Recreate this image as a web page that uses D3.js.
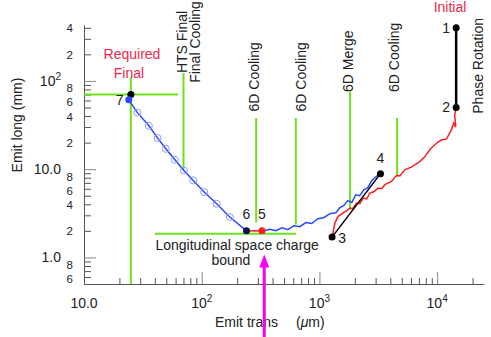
<!DOCTYPE html>
<meta charset="utf-8">
<head>
	<script src="https://d3js.org/d3.v7.min.js"></script>
	<style>
		body {
			margin: 0;
			background: #fff;
		}
		svg {
			font-family: "Liberation Sans", Arial, sans-serif;
			font-size: 14px;
		}
		.axis path,
		.axis line {
			fill: none;
			stroke: #555;
		}
		.axis.major line {
			stroke: #888;
		}
		.axis.major path {
			display: none;
		}
	</style>
</head>

<body>
	<div id="chart"></div>
</body>

<script type="text/javascript">

	// ---- data ----
	var xDecades = [10, 100, 1000, 10000];
	var xDecadeLabels = [["10.0", ""], ["10", "2"], ["10", "3"], ["10", "4"]];

	var yDecades = [1, 10, 100];
	var yDecadeLabels = [["1.0", ""], ["10.0", ""], ["10", "2"]];
	var yMinorLabelValues = [0.6, 0.8, 2, 4, 6, 8, 20, 40, 60, 80, 200, 400];
	var yMinorLabels = ["6", "8", "2", "4", "6", "8", "2", "4", "6", "8", "2", "4"];

	// final cooling path 7 -> 6 (trans um, long mm)
	var finalCooling = [[24, 61], [28.4, 43.7], [35.6, 31], [42.2, 22.5], [49.6, 17], [59.2, 12.8],
		[70.6, 9.66], [84.7, 7.45], [105, 5.5], [134, 4.06], [173, 2.87], [240, 2.0]];

	// 6D cooling after merge, 5 -> 4
	var cooling6D = [[324, 1.97], [379, 2.09], [427, 2.01], [480, 2.17], [540, 2.06], [607, 2.29],
		[682, 2.23], [767, 2.48], [861, 2.42], [968, 2.75], [1089, 2.82], [1225, 3.13], [1377, 3.2],
		[1489, 3.66], [1610, 3.85], [1741, 4.4], [1883, 4.2], [2036, 5.13], [2202, 5.0], [2381, 5.85],
		[2575, 6.17], [2784, 7.4], [3011, 8.2], [3256, 8.87]];

	// 6D cooling before merge, 2 -> 3
	var coolingInit = [[14500, 49.5], [14100, 41.2], [14390, 29.9], [13830, 33.2], [13210, 27.9],
		[12540, 24.5], [12000, 21.9], [10940, 21.5], [10190, 20.3], [9360, 18.4], [8650, 16.6],
		[7844, 13.8], [7110, 12.2], [6086, 10.6], [5310, 9.84], [4818, 8.4], [4515, 8.49], [4094, 7.26],
		[3590, 6.67], [3387, 6.0], [3150, 6.1], [2896, 5.55], [2680, 5.37], [2523, 4.6], [2349, 4.71],
		[2203, 4.06], [2065, 4.13], [1919, 3.57], [1811, 3.63], [1709, 3.38], [1590, 3.19], [1442, 2.92],
		[1352, 2.45], [1282, 1.7]];

	var chargeStep = [[240, 2.0], [325, 2.0]];
	var phaseRotation = [[14500, 400], [14500, 50]];
	var bunchMerge = [[1280, 1.7], [3300, 8.9]];

	var points = [
		{ id: "1", v: [14500, 400], c: "#000" },
		{ id: "2", v: [14500, 50], c: "#000" },
		{ id: "3", v: [1280, 1.7], c: "#000" },
		{ id: "4", v: [3300, 8.9], c: "#000" },
		{ id: "5", v: [325, 2.0], c: "#ff1f1f" },
		{ id: "6", v: [240, 2.0], c: "#10124a" },
		{ id: "7", v: [24, 61], c: "#2b48ff" }
	];
	var requiredFinal = [25, 70];

	// stage boundaries: [trans, long from, long to]
	var stageLines = [[25, 0.5, 110], [70, 10, 123], [290, 2.5, 38], [630, 2.35, 38], [1820, 3.47, 75], [4570, 8.6, 38]];
	// horizontal limits: [trans from, trans to, long]
	var limitLines = [[10, 63, 70], [40, 630, 1.85]];
	var chargeBoundArrow = [[340, 0.12], [340, 1.08]];

	// ---- chart ----
	var width = 491, height = 337;

	var x = d3.scaleLog().domain([10, 25000]).range([84, 484]);
	var y = d3.scaleLog().domain([0.5, 430]).range([284, 25]);

	var svg = d3.select("#chart").append("svg")
		.attr("width", width)
		.attr("height", height);

	function minorOf(decades, lo, hi) {
		var out = [];
		decades.forEach(function(d) {
			for (var m = 2; m <= 9; m++) {
				if (m * d >= lo && m * d <= hi) out.push(m * d);
			}
		});
		return out;
	}

	// x axis
	svg.append("g")
		.attr("class", "axis")
		.attr("transform", "translate(0,284)")
		.call(d3.axisBottom(x).tickValues(minorOf(xDecades, 10, 25000)).tickSizeInner(-6).tickSizeOuter(0).tickFormat(""));
	svg.append("g")
		.attr("class", "axis major")
		.attr("transform", "translate(0,284)")
		.call(d3.axisBottom(x).tickValues(xDecades.slice(1)).tickSizeInner(-12).tickSizeOuter(0).tickFormat(""));

	// y axis
	svg.append("g")
		.attr("class", "axis")
		.attr("transform", "translate(84,0)")
		.call(d3.axisLeft(y).tickValues(minorOf([0.1, 1, 10, 100], 0.5, 430)).tickSizeInner(-7).tickSizeOuter(0).tickFormat(""));
	svg.append("g")
		.attr("class", "axis major")
		.attr("transform", "translate(84,0)")
		.call(d3.axisLeft(y).tickValues(yDecades).tickSizeInner(-12).tickSizeOuter(0).tickFormat(""));

	function supText(sel, lab) {
		sel.append("tspan").text(lab[0]);
		if (lab[1]) {
			sel.append("tspan").attr("dy", -6).style("font-size", "10px").text(lab[1]);
		}
	}

	xDecades.forEach(function(d, i) {
		var t = svg.append("text")
			.attr("x", x(d))
			.attr("y", 308)
			.style("text-anchor", "middle")
			.style("fill", "#222");
		supText(t, xDecadeLabels[i]);
	});

	yDecades.forEach(function(d, i) {
		var t = svg.append("text")
			.attr("x", 61)
			.attr("y", y(d) + 5)
			.style("text-anchor", "end")
			.style("fill", "#222");
		supText(t, yDecadeLabels[i]);
	});

	// 8 and 6 sit close together; nudge them apart a little
	svg.selectAll(".ylab")
		.data(yMinorLabelValues)
		.enter().append("text")
		.attr("class", "ylab")
		.attr("x", 73)
		.attr("y", function(d, i) {
			var nudge = yMinorLabels[i] === "8" ? -1.5 : (yMinorLabels[i] === "6" ? 1.5 : 0);
			return y(d) + 4.5 + nudge;
		})
		.style("text-anchor", "end")
		.style("font-size", "11.5px")
		.style("fill", "#222")
		.text(function(d, i) { return yMinorLabels[i]; });

	// axis titles
	var xt = svg.append("text")
		.attr("x", 215)
		.attr("y", 327)
		.style("fill", "#222");
	xt.append("tspan").text("Emit trans");
	xt.append("tspan").attr("dx", 18).text("(");
	xt.append("tspan").style("font-style", "italic").text("\u03bc");
	xt.append("tspan").text("m)");

	svg.append("text")
		.attr("transform", "translate(22,125)rotate(-90)")
		.style("text-anchor", "middle")
		.style("fill", "#222")
		.text("Emit long (mm)");

	// green stage lines
	svg.selectAll(".stage")
		.data(stageLines)
		.enter().append("line")
		.attr("class", "stage")
		.attr("x1", function(d) { return x(d[0]); })
		.attr("x2", function(d) { return x(d[0]); })
		.attr("y1", function(d) { return y(d[1]); })
		.attr("y2", function(d) { return y(d[2]); })
		.style("stroke", "#6ee21a")
		.style("stroke-width", 2);

	svg.selectAll(".limit")
		.data(limitLines)
		.enter().append("line")
		.attr("class", "limit")
		.attr("x1", function(d) { return x(d[0]); })
		.attr("x2", function(d) { return x(d[1]); })
		.attr("y1", function(d) { return y(d[2]); })
		.attr("y2", function(d) { return y(d[2]); })
		.style("stroke", "#6ee21a")
		.style("stroke-width", 2);

	// stage labels, rotated
	var stageLabels = [
		{ t: "6D Cooling", x: 290, dx: 3, y: 45, anchor: "start" },
		{ t: "6D Cooling", x: 630, dx: 10, y: 45, anchor: "start" },
		{ t: "6D Merge", x: 1820, dx: 3, y: 75, anchor: "start" },
		{ t: "6D Cooling", x: 4570, dx: 2, y: 75, anchor: "start" },
		{ t: "HTS Final", x: 70, dx: 4, y: 276, anchor: "middle" },
		{ t: "Final Cooling", x: 70, dx: 17, y: 276, anchor: "middle" },
		{ t: "Phase Rotation", x: 14500, dx: 27, y: 148, anchor: "middle" }
	];
	svg.selectAll(".stagelab")
		.data(stageLabels)
		.enter().append("text")
		.attr("class", "stagelab")
		.attr("transform", function(d) { return "translate(" + (x(d.x) + d.dx) + "," + y(d.y) + ")rotate(-90)"; })
		.style("text-anchor", function(d) { return d.anchor; })
		.style("fill", "#222")
		.text(function(d) { return d.t; });

	var line = d3.line()
		.x(function(d) { return x(d[0]); })
		.y(function(d) { return y(d[1]); });

	// paths
	svg.append("path").datum(finalCooling).attr("d", line)
		.style("fill", "none").style("stroke", "#2b48ff").style("stroke-width", 1.5);
	svg.selectAll(".ring")
		.data(finalCooling.slice(1, -1))
		.enter().append("circle")
		.attr("class", "ring")
		.attr("cx", function(d) { return x(d[0]); })
		.attr("cy", function(d) { return y(d[1]); })
		.attr("r", 3.5)
		.style("fill", "none")
		.style("stroke", "#8c9cff")
		.style("stroke-width", 1);

	svg.append("path").datum(coolingInit).attr("d", line)
		.style("fill", "none").style("stroke", "#ff1f1f").style("stroke-width", 1.5);
	svg.append("path").datum(cooling6D).attr("d", line)
		.style("fill", "none").style("stroke", "#2b48ff").style("stroke-width", 1.5);
	svg.append("path").datum(chargeStep).attr("d", line)
		.style("fill", "none").style("stroke", "#ff1f1f").style("stroke-width", 1.5);
	svg.append("path").datum(phaseRotation).attr("d", line)
		.style("fill", "none").style("stroke", "#000").style("stroke-width", 2.5);
	svg.append("path").datum(bunchMerge).attr("d", line)
		.style("fill", "none").style("stroke", "#000").style("stroke-width", 1.5);

	// points
	svg.append("circle")
		.attr("cx", x(requiredFinal[0]))
		.attr("cy", y(requiredFinal[1]))
		.attr("r", 3.5)
		.style("fill", "#000");

	svg.selectAll(".pt")
		.data(points)
		.enter().append("circle")
		.attr("class", "pt")
		.attr("cx", function(d) { return x(d.v[0]); })
		.attr("cy", function(d) { return y(d.v[1]); })
		.attr("r", 3.5)
		.style("fill", function(d) { return d.c; });

	var ptOffset = { "1": [-10, 5], "2": [-10, 5], "3": [10, 6], "4": [0, -11], "5": [0, -12], "6": [0, -12], "7": [-9, 5] };
	svg.selectAll(".ptlab")
		.data(points)
		.enter().append("text")
		.attr("class", "ptlab")
		.attr("x", function(d) { return x(d.v[0]) + ptOffset[d.id][0]; })
		.attr("y", function(d) { return y(d.v[1]) + ptOffset[d.id][1]; })
		.style("text-anchor", "middle")
		.style("fill", "#222")
		.text(function(d) { return d.id; });

	// annotations
	svg.append("text").attr("x", 132).attr("y", 59).style("text-anchor", "middle")
		.style("fill", "#f0284a").text("Required");
	svg.append("text").attr("x", 129).attr("y", 78).style("text-anchor", "middle")
		.style("fill", "#f0284a").text("Final");
	svg.append("text").attr("x", 450).attr("y", 12).style("text-anchor", "middle")
		.style("fill", "#f0284a").text("Initial");

	svg.append("text").attr("x", x(200)).attr("y", 250).style("text-anchor", "middle")
		.style("fill", "#222").text("Longitudinal space charge");
	svg.append("text").attr("x", x(177)).attr("y", 265).style("text-anchor", "middle")
		.style("fill", "#222").text("bound");

	// magenta arrow
	var ax = x(chargeBoundArrow[0][0]);
	var ay0 = y(chargeBoundArrow[0][1]);
	var ay1 = y(chargeBoundArrow[1][1]);
	svg.append("line")
		.attr("x1", ax).attr("x2", ax)
		.attr("y1", ay0).attr("y2", ay1 + 8)
		.style("stroke", "#ff00f0")
		.style("stroke-width", 3);
	svg.append("path")
		.attr("d", "M" + ax + "," + ay1 + "L" + (ax - 5) + "," + (ay1 + 13) + "L" + (ax + 5) + "," + (ay1 + 13) + "Z")
		.style("fill", "#ff00f0");

</script>
